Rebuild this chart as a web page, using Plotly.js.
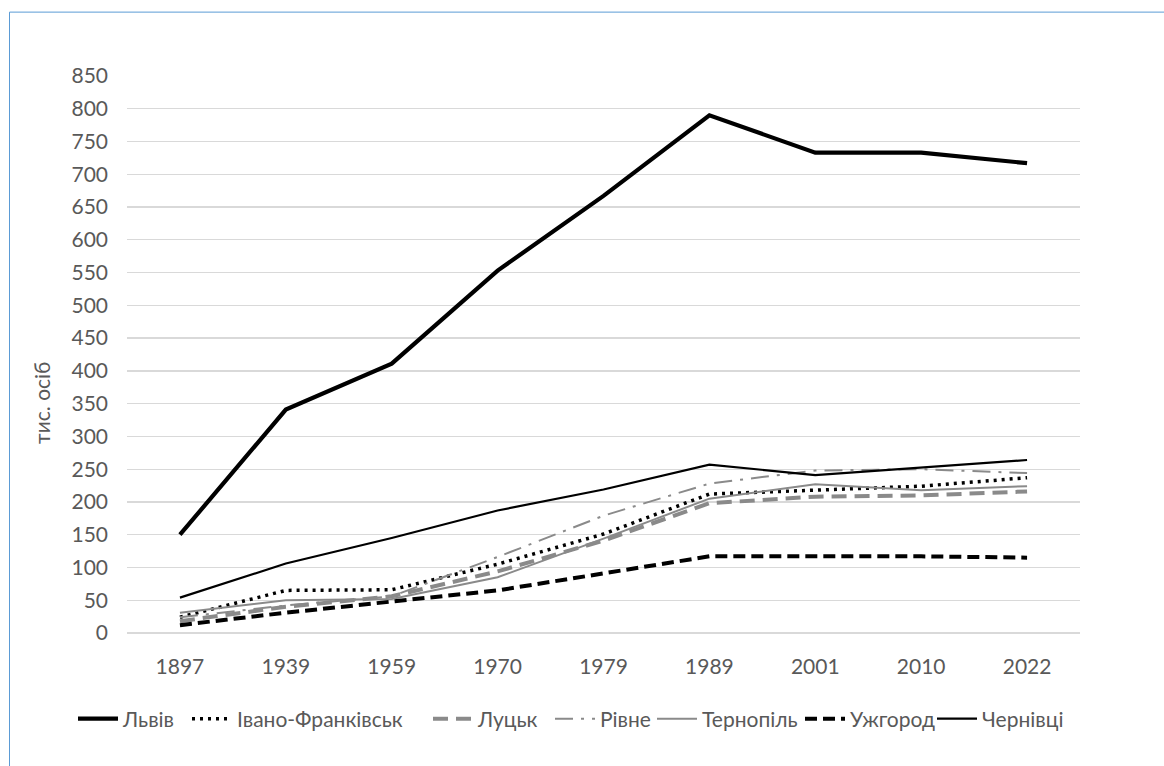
<!DOCTYPE html>
<html>
<head>
<meta charset="utf-8">
<script src="https://cdn.plot.ly/plotly-3.0.1.min.js"></script>
<style>
html,body{margin:0;padding:0;background:#fff;}
#chart{width:1164px;height:766px;}
</style>
</head>
<body>
<div id="chart"></div>
<script>
const years = ['1897','1939','1959','1970','1979','1989','2001','2010','2022'];
const lviv = [150,341,411,553,667,790,733,733,717];
const ivanoFrankivsk = [24,65,66,105,151,212,218,224,237];
const lutsk = [18,40,56,94,141,198,208,210,216];
const rivne = [24,42,56,116,179,228,248,250,244];
const ternopil = [31,50,52,85,144,205,227,218,224];
const uzhhorod = [12,31,48,65,91,117,117,117,115];
const chernivtsi = [54,106,145,187,219,257,241,252,264];
const seriesNames = ['Львів','Івано-Франківськ','Луцьк','Рівне','Тернопіль','Ужгород','Чернівці'];
const yTicks = [0,50,100,150,200,250,300,350,400,450,500,550,600,650,700,750,800,850];
const yTitle = 'тис. осіб';

const gray = '#8a8a8a';
const W = 1164, H = 766;
const L = 127, R = 84, T = 75.5, B = 132.5;
const pw = W - L - R, ph = H - T - B;
const px2x = p => (p - L) / pw;
const py2y = p => (H - B - p) / ph;

const legIds = ['legend','legend2','legend3','legend4','legend5','legend6','legend7'];
function tr(i, y, color, width, dash) {
  return {x: years, y: y, name: seriesNames[i], type: 'scatter', mode: 'lines', legend: legIds[i],
    line: {color: color, width: width, dash: dash}, hoverinfo: 'skip'};
}
const data = [
  tr(0, lviv, '#000', 4.2, 'solid'),
  tr(1, ivanoFrankivsk, '#000', 3.5, '3px,5px'),
  tr(2, lutsk, gray, 4, '15px,8px'),
  tr(3, rivne, gray, 2, '18px,8px,3px,8px'),
  tr(4, ternopil, gray, 2, 'solid'),
  tr(5, uzhhorod, '#000', 4, '12px,6px'),
  tr(6, chernivtsi, '#000', 2.2, 'solid')
];

const font = {family: 'Lato, "Open Sans", sans-serif', size: 21, color: '#595959'};
const legFont = {family: font.family, size: 21, color: '#595959'};
function leg(xpx) {
  return {orientation: 'h', xref: 'container', yref: 'container', x: xpx / W, xanchor: 'left',
    y: 1 - 719 / H, yanchor: 'middle', font: legFont, itemwidth: 40, bgcolor: 'rgba(0,0,0,0)'};
}
const legX = [73, 187, 428, 550, 652, 800, 932];

const layout = {
  width: W, height: H,
  margin: {l: L, r: R, t: T, b: B},
  paper_bgcolor: '#fff', plot_bgcolor: '#fff',
  font: font,
  showlegend: true,
  xaxis: {type: 'category', range: [-0.5, years.length - 0.5], showgrid: false, zeroline: false, showline: false,
    ticks: '', ticklabelstandoff: 19, tickfont: font, fixedrange: true},
  yaxis: {range: [0, 850], tickvals: yTicks, ticktext: yTicks.map(String),
    showgrid: true, gridcolor: '#d9d9d9', gridwidth: 1.3,
    zeroline: true, zerolinecolor: '#d9d9d9', zerolinewidth: 1.3,
    showline: false, ticks: '', ticklabelstandoff: 18, tickfont: font, fixedrange: true},
  annotations: [{text: yTitle, xref: 'paper', yref: 'paper', x: px2x(42), y: py2y(403),
    xanchor: 'center', yanchor: 'middle', textangle: -90, showarrow: false,
    font: {family: font.family, size: 21, color: '#595959'}}],
  shapes: [{type: 'rect', xref: 'paper', yref: 'paper',
    x0: px2x(9.5), x1: px2x(1175), y0: py2y(780), y1: py2y(11.5),
    line: {color: '#5b9bd5', width: 1}, fillcolor: 'rgba(0,0,0,0)', layer: 'below'}]
};
legIds.forEach((id, i) => { layout[id] = leg(legX[i]); });
Plotly.newPlot('chart', data, layout, {staticPlot: true, displayModeBar: false});
</script>
</body>
</html>
